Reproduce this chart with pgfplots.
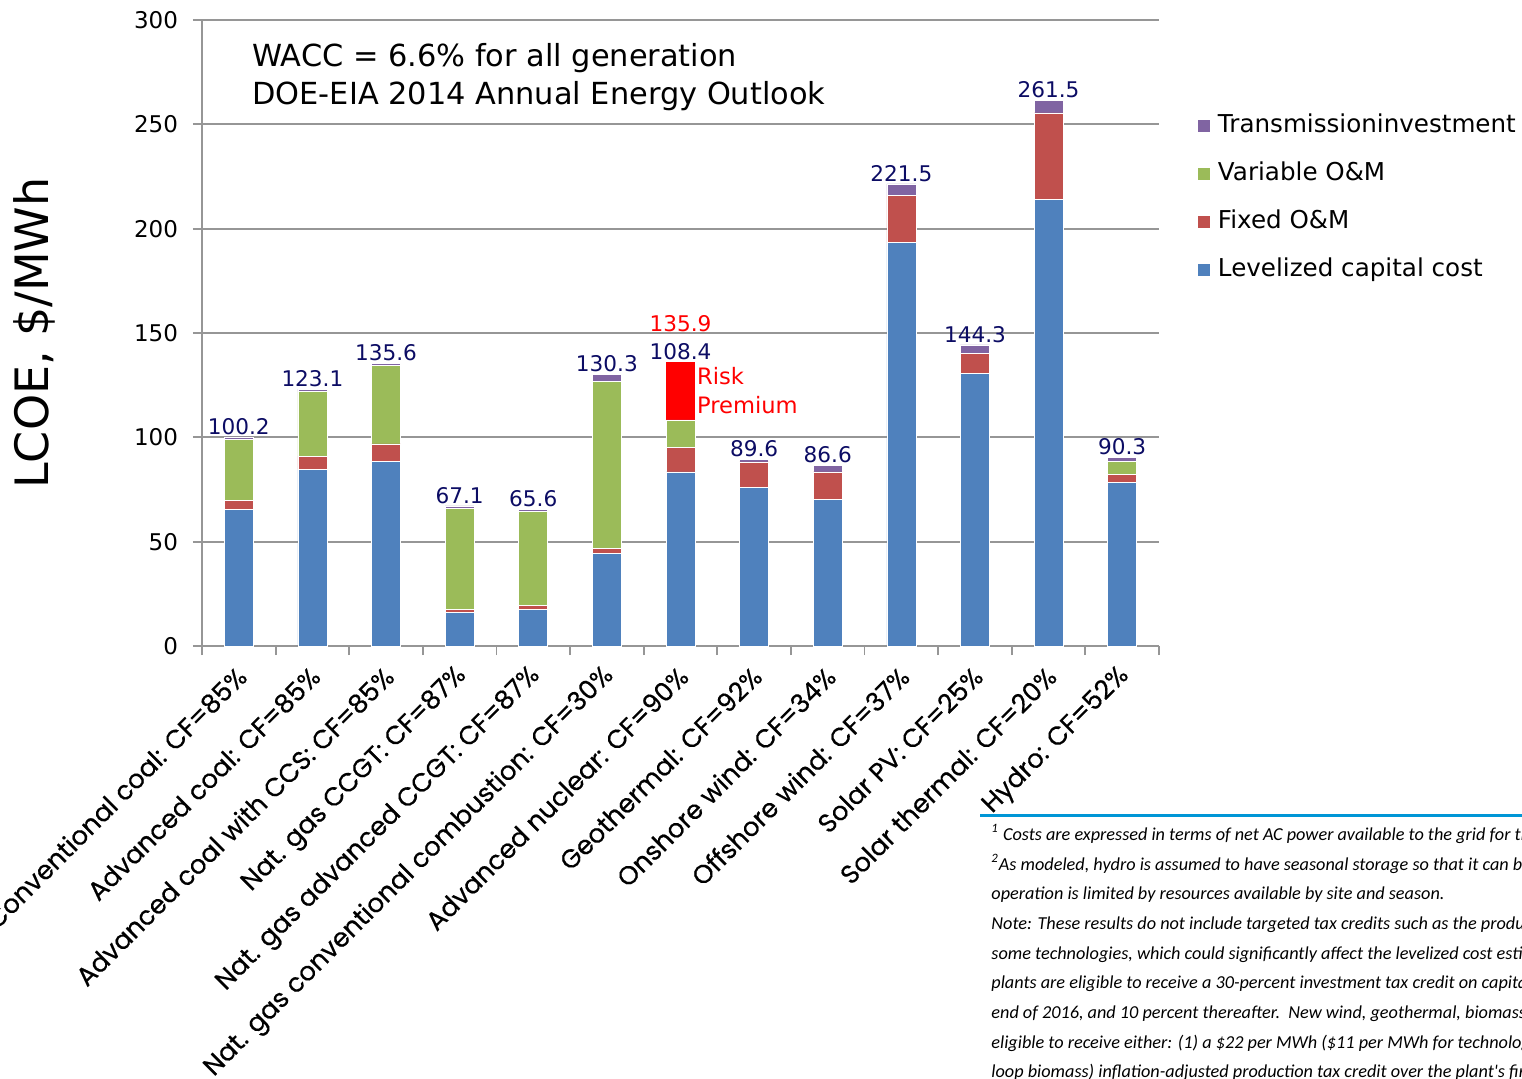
\documentclass[border=0pt]{standalone}
\usepackage{fontspec}
\setmainfont{DejaVu Sans}
\newfontfamily\catfont[FakeBold=0.5]{Poppins}
\newfontfamily\notefont{Carlito}
\usepackage{pgfplots}
\usepackage{pgfplotstable}
\pgfplotsset{compat=1.18}

\definecolor{capblue}{RGB}{79,129,189}
\definecolor{fixred}{RGB}{192,80,77}
\definecolor{vargreen}{RGB}{155,187,89}
\definecolor{transpurple}{RGB}{128,100,162}
\definecolor{navy}{RGB}{12,12,100}
\definecolor{gridgray}{RGB}{150,150,150}
\definecolor{ruleblue}{RGB}{0,150,214}

% LCOE components, $/MWh (risk = nuclear risk premium; labely = top of each stack)
\pgfplotstableread{
x  cap   fixed var  trans risk total labely
1  65.6  4.2   29.4 1.0   0    100.2 100.2
2  84.7  6.3   30.9 1.2   0    123.1 123.1
3  88.3  8.6   37.6 1.1   0    135.6 135.6
4  16.0  1.6   48.4 1.1   0    67.1  67.1
5  17.6  1.7   45.4 0.9   0    65.6  65.6
6  44.4  2.4   80.2 3.3   0    130.3 130.3
7  83.4  11.6  13.0 0.4   27.5 108.4 135.9
8  76.0  12.2  0.0  1.4   0    89.6  89.6
9  70.3  13.1  0.0  3.2   0    86.6  86.6
10 193.4 22.6  0.0  5.5   0    221.5 221.5
11 130.7 9.5   0.0  4.1   0    144.3 144.3
12 214.2 41.3  0.0  6.0   0    261.5 261.5
13 78.3  4.1   5.9  2.0   0    90.3  90.3
}\lcoe

\pgfplotsset{
  lcoeframe/.style={
    at={(101pt,216pt)}, anchor=south west,
    scale only axis, width=478.5pt, height=313pt,
    xmin=0.5, xmax=13.5, ymin=0, ymax=300,
    /pgf/number format/assume math mode=true}
}

\begin{document}
\begin{tikzpicture}
\useasboundingbox (0,0) rectangle (761pt,539pt);
\begin{axis}[
  lcoeframe,
  ybar stacked, bar width=14.5pt,
  ytick={0,50,...,300},
  xtick={1,...,13},
  minor xtick={0.5,1.5,...,13.5},
  xticklabels={
    Conventional coal: CF=85\%,
    Advanced coal: CF=85\%,
    Advanced coal with CCS: CF=85\%,
    Nat. gas CCGT: CF=87\%,
    Nat. gas advanced CCGT: CF=87\%,
    Nat. gas conventional combustion: CF=30\%,
    Advanced nuclear: CF=90\%,
    Geothermal: CF=92\%,
    Onshore wind: CF=34\%,
    Offshore wind: CF=37\%,
    Solar PV: CF=25\%,
    Solar thermal: CF=20\%,
    Hydro: CF=52\%},
  axis x line*=bottom, axis y line*=left,
  axis line style={gridgray, line width=0.9pt},
  ymajorgrids, grid style={gridgray, line width=0.9pt},
  tick align=outside,
  major tick length=4.5pt, minor tick length=4.5pt,
  major x tick style={draw=none},
  minor x tick style={draw=gridgray, line width=0.9pt},
  ytick style={draw=gridgray, line width=0.9pt},
  xticklabel style={font=\catfont\fontsize{13}{15}\selectfont, xshift=4pt, yshift=-6pt, rotate=45, anchor=east},
  yticklabel style={font=\fontsize{11.5}{13}\selectfont, xshift=-4pt},
  ylabel={LCOE, \$/MWh},
  ylabel style={font=\fontsize{23}{26}\selectfont, at={(axis description cs:-0.1756,0.5)}, anchor=center},
  legend image code/.code={\fill[#1] (0pt,-3.25pt) rectangle (6.5pt,3.25pt);},
  reverse legend,
  legend cell align=left,
  legend style={at={(axis description cs:1.0397,0.7155)}, anchor=west,
    draw=none, fill=none, inner sep=0pt, row sep=12pt,
    font=\fontsize{12.3}{14}\selectfont,
    nodes={inner sep=0pt, text height=9pt, text depth=3pt},
    /tikz/every odd column/.style={column sep=3.5pt}},
  every axis plot/.append style={draw=white, line width=0.3pt},
]
\addplot[fill=capblue] table[x=x, y=cap] {\lcoe};
\addlegendentry{Levelized capital cost}
\addplot[fill=fixred] table[x=x, y=fixed] {\lcoe};
\addlegendentry{Fixed O\&M}
\addplot[fill=vargreen] table[x=x, y=var] {\lcoe};
\addlegendentry{Variable O\&M}
\addplot[fill=transpurple] table[x=x, y=trans] {\lcoe};
\addlegendentry{Transmissioninvestment}
% nuclear risk premium
\addplot[fill=red, draw=none, forget plot] table[x=x, y=risk] {\lcoe};

\node[text=red, font=\fontsize{10.8}{12}\selectfont, anchor=south, inner sep=1pt, yshift=14pt] at (axis cs:7,135.9) {135.9};
\node[text=red, font=\fontsize{11.3}{13}\selectfont, anchor=base west, inner sep=0pt] at (axis cs:7.22,125.1) {Risk};
\node[text=red, font=\fontsize{11.3}{13}\selectfont, anchor=base west, inner sep=0pt] at (axis cs:7.22,111.6) {Premium};
\end{axis}

% totals written above each stack
\begin{axis}[lcoeframe, hide axis]
\addplot[draw=none, mark=none,
  point meta=explicit,
  nodes near coords={\pgfmathprintnumber[fixed,fixed zerofill,precision=1]{\pgfplotspointmeta}},
  every node near coord/.append style={text=navy, font=\fontsize{10.8}{12}\selectfont, inner sep=1pt, anchor=south}]
  table[x=x, y=labely, meta=total] {\lcoe};
\end{axis}

% heading
\node[anchor=base west, inner sep=0pt, font=\fontsize{15.2}{18}\selectfont] at (126pt,505.5pt) {WACC = 6.6\% for all generation};
\node[anchor=base west, inner sep=0pt, font=\fontsize{15.2}{18}\selectfont] at (126pt,486.5pt) {DOE-EIA 2014 Annual Energy Outlook};

% source notes
\begin{scope}
\clip (489pt,0pt) rectangle (761pt,136pt);
\draw[ruleblue, line width=1.5pt] (490pt,131.5pt) -- (761pt,131.5pt);
\begin{scope}[every node/.style={anchor=base west, inner sep=0pt, font=\notefont\itshape\fontsize{9.12}{11}\selectfont}]
\node at (495.5pt,119pt) {\textsuperscript{1} Costs are expressed in terms of net AC power available to the grid for the installed capacity.};
\node at (495.5pt,104pt) {\textsuperscript{2}As modeled, hydro is assumed to have seasonal storage so that it can be dispatched within a season, but overall};
\node at (495.5pt,89.5pt) {operation is limited by resources available by site and season.};
\node at (495.5pt,74.5pt) {Note: These results do not include targeted tax credits such as the production or investment tax credit available for};
\node at (495.5pt,59.5pt) {some technologies, which could significantly affect the levelized cost estimate. For example, new solar thermal and PV};
\node at (495.5pt,45pt) {plants are eligible to receive a 30-percent investment tax credit on capital expenditures if placed in service before the};
\node at (495.5pt,30pt) {end of 2016, and 10 percent thereafter.\ \ New wind, geothermal, biomass, hydroelectric, and landfill gas plants are};
\node at (495.5pt,15pt) {eligible to receive either: (1) a \$22 per MWh (\$11 per MWh for technologies other than wind, geothermal and closed-};
\node at (495.5pt,0.5pt) {loop biomass) inflation-adjusted production tax credit over the plant's first ten years of service or (2) a 30-percent};
\end{scope}
\end{scope}
\end{tikzpicture}
\end{document}
